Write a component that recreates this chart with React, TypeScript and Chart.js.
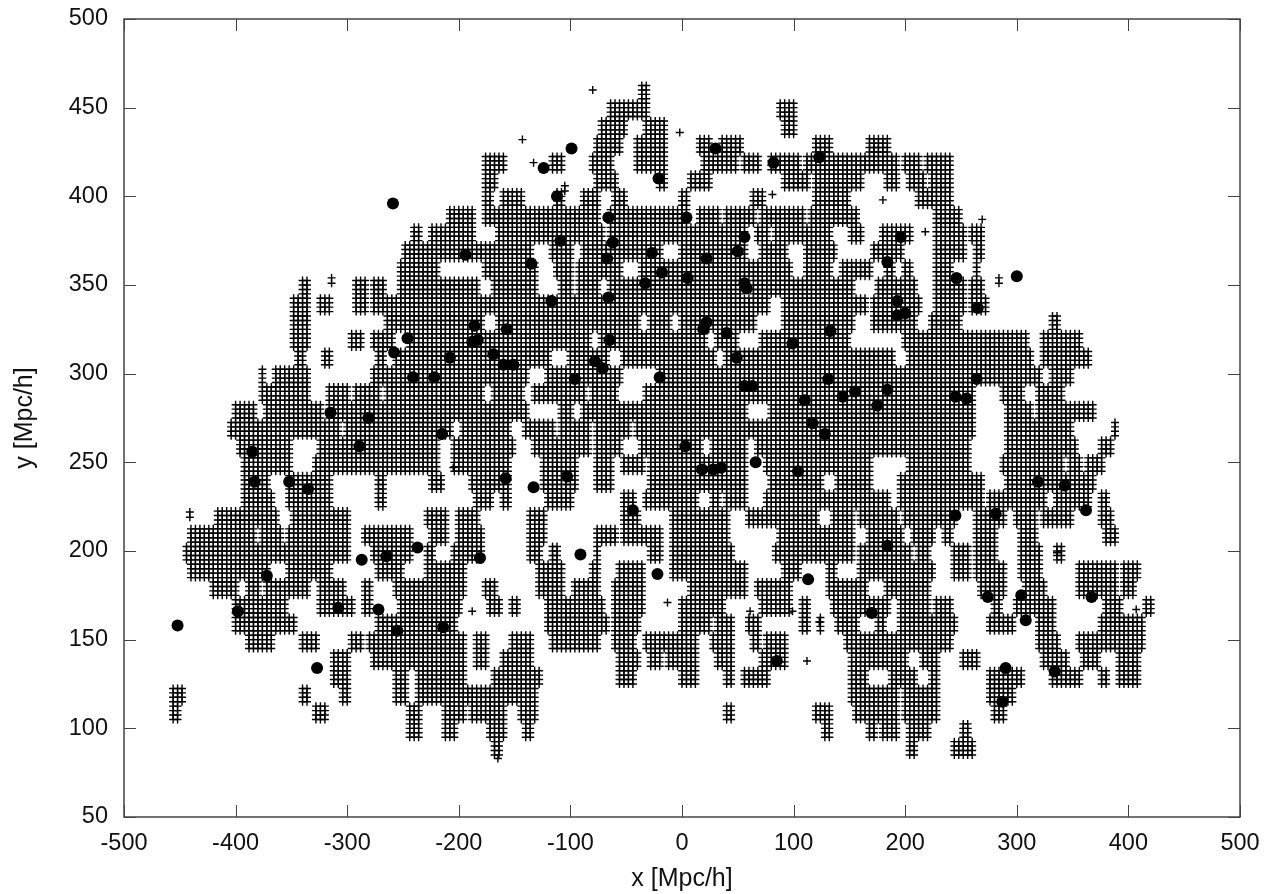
import React, { useEffect, useRef } from "react";
import { Chart, registerables } from "chart.js";

Chart.register(...registerables);

const xTickStep = 100;
const yTickStep = 50;
const xRange = [-500, 500];
const yRange = [50, 500];
const xTitle = "x [Mpc/h]";
const yTitle = "y [Mpc/h]";

// Occupied cells: [y, from x, to x, from x, to x, ...]
const occupiedRows: number[][] = [
  [460, -40, -29],
  [450, -65, -30, 86, 103],
  [440, -73, -50, -36, -13, 88, 101],
  [430, -80, -54, -42, -13, 12, 25, 34, 54, 116, 134, 166, 186],
  [420, -177, -159, -120, -107, -81, -63, -44, -13, 16, 49, 55, 71, 79, 104, 110, 194, 198, 213, 216, 240],
  [410, -178, -168, -80, -60, -24, -15, 7, 25, 88, 101, 103, 115, 117, 162, 182, 195, 202, 218, 220, 240],
  [400, -178, -170, -161, -141, -116, -107, -89, -76, -63, -49, -2, 7, 61, 72, 117, 151, 210, 240],
  [390, -211, -185, -179, -73, -67, 7, 14, 34, 39, 67, 70, 108, 112, 157, 225, 249],
  [380, -244, -235, -228, -185, -166, -69, -67, 56, 67, 76, 81, 135, 151, 162, 179, 206, 225, 255, 258, 270],
  [370, -251, -134, -118, -99, -91, -20, -2, 59, 68, 94, 110, 137, 170, 198, 225, 252, 263, 270],
  [360, -253, -220, -178, -132, -116, -98, -93, -56, -40, 99, 108, 133, 142, 168, 180, 188, 198, 207, 225, 243, 263, 267],
  [350, -342, -336, -295, -282, -277, -268, -255, -181, -169, -130, -111, -98, -93, -73, -67, 52, 62, 153, 175, 211, 225, 254, 256, 271],
  [340, -349, -333, -327, -315, -295, -282, -278, -172, -169, 79, 88, 164, 170, 213, 227, 254, 258, 274],
  [330, -351, -335, -268, -177, -168, -40, -29, -11, -2, 67, 88, 153, 171, 209, 222, 249, 328, 339],
  [320, -349, -336, -299, -286, -277, -257, -248, -82, -73, -47, -45, -24, -22, 20, 29, 49, 70, 151, 198, 309, 323, 358],
  [310, -345, -338, -324, -315, -273, -268, -260, -118, -102, -67, -53, 31, 36, 191, 202, 314, 321, 367],
  [300, -380, -373, -366, -336, -280, -139, -121, -54, -24, 321, 328, 349],
  [290, -380, -333, -318, -300, -296, -272, -268, -177, -170, -141, -134, -87, -82, -57, -35, 263, 285, 305, 318, 340],
  [280, -403, -384, -375, -322, -318, -300, -297, -139, -112, -99, -89, 58, 76, 263, 289, 312, 319, 368],
  [270, -407, -305, -302, -208, -197, -154, -141, -116, -112, -82, -80, -47, -44, 261, 291, 350, 384, 390],
  [260, -400, -349, -326, -219, -208, -151, -134, -82, -80, -53, -40, 16, 25, 59, 64, 258, 289, 354, 372, 386],
  [250, -396, -349, -329, -219, -208, -154, -125, -93, -80, -63, -53, -33, -29, 58, 72, 168, 200, 258, 287, 305, 307, 343, 345, 359, 363, 379],
  [240, -394, -369, -356, -313, -273, -268, -228, -215, -190, -154, -125, -93, -78, -63, -31, 56, 77, 126, 139, 168, 195, 269, 289, 368],
  [230, -394, -365, -354, -315, -273, -268, -185, -170, -161, -154, -123, -98, -56, -44, -36, 12, 25, 32, 39, 56, 74, 186, 194, 270, 273, 327, 332, 366, 372, 381],
  [220, -418, -396, -393, -363, -351, -299, -230, -210, -203, -181, -139, -121, -56, -39, -11, 41, 59, 122, 135, 153, 159, 193, 198, 246, 263, 289, 296, 318, 323, 350, 372, 386],
  [210, -443, -383, -380, -360, -354, -299, -287, -244, -228, -211, -203, -179, -139, -121, -78, -57, -53, -17, -11, 41, 86, 153, 166, 198, 207, 224, 233, 243, 263, 280, 303, 319, 376, 388],
  [200, -447, -297, -280, -241, -230, -223, -206, -179, -139, -125, -120, -109, -80, -73, -31, -17, -11, 45, 81, 153, 159, 204, 211, 220, 240, 258, 263, 280, 301, 321, 332, 340],
  [190, -441, -369, -353, -315, -273, -250, -232, -193, -132, -107, -82, -76, -60, -35, -11, 58, 90, 106, 131, 139, 158, 224, 240, 258, 263, 291, 303, 321, 354, 390, 395, 408],
  [180, -423, -399, -390, -380, -376, -333, -327, -304, -288, -277, -259, -196, -177, -165, -130, -108, -98, -73, -63, -35, 7, 56, 67, 99, 131, 166, 180, 222, 264, 289, 305, 327, 354, 390, 395, 404],
  [170, -402, -354, -326, -293, -287, -280, -255, -197, -175, -163, -156, -147, -121, -71, -63, -35, -2, 37, 68, 97, 104, 113, 133, 185, 195, 220, 227, 243, 279, 287, 298, 332, 377, 394, 413, 422],
  [160, -403, -345, -273, -201, -123, -67, -62, -40, -2, 25, 31, 46, 58, 68, 106, 115, 121, 126, 139, 159, 173, 182, 195, 245, 274, 297, 319, 332, 375, 413],
  [150, -392, -365, -344, -327, -300, -288, -281, -196, -185, -174, -154, -136, -120, -73, -62, -44, -35, 13, 27, 46, 61, 68, 74, 95, 146, 240, 318, 339, 355, 413],
  [140, -314, -299, -277, -194, -185, -174, -161, -134, -60, -38, -31, -20, -13, 13, 30, 46, 68, 95, 149, 202, 213, 228, 249, 267, 323, 345, 359, 375, 388, 410],
  [130, -314, -300, -260, -246, -237, -194, -169, -127, -57, -42, -4, 13, 37, 46, 52, 76, 149, 164, 186, 211, 220, 229, 274, 305, 328, 358, 373, 381, 388, 408],
  [120, -459, -448, -344, -335, -305, -297, -259, -246, -237, -129, 149, 195, 198, 228, 273, 297],
  [110, -457, -452, -331, -320, -246, -235, -215, -196, -190, -159, -145, -132, 37, 47, 119, 135, 152, 193, 198, 228, 278, 288],
  [100, -246, -235, -214, -202, -174, -157, -141, -136, 124, 134, 164, 173, 179, 193, 200, 220, 248, 256],
  [90, -169, -161, 202, 211, 243, 261],
];

const loneCrossX = [-80, -143, -2, -133, -105, -105, 81, 180, 269, 284, 284, -314, -314, -188, 61, 99, 112, 123, -13, -441, -441, 336, -205, -165, 407, 218];
const loneCrossY = [460, 432, 436, 419, 406, 403, 401, 398, 387, 354, 351, 354, 351, 166, 166, 166, 138, 160, 171, 222, 219, 199, 247, 83, 167, 380];

const objectX = [-259, -246, -258, -241, -315, -281, -99, -124, -112, -21, -66, -62, -67, -27, -18, -33, 5, 4, -109, -135, -194, -117, -66, -186, -188, -183, -157, -65, -208, -169, -160, -151, -78, -71, -20, -96, -222, 30, 82, 123, 56, 50, 22, 56, 58, 196, 184, 193, 193, 200, 19, 22, 40, 133, 99, 49, 131, 56, 63, 110, 144, 155, 184, 175, 117, 246, 265, 300, 264, 245, 255, -385, -289, -383, -352, -335, -237, -265, -287, -372, -398, -308, -272, -255, -327, -452, -215, -158, -133, -103, 3, -44, -181, -91, -22, -214, 128, 66, 18, 28, 35, 104, 113, 85, 170, 184, 245, 281, 319, 343, 362, 274, 304, 308, 367, 290, 287, 334];
const objectY = [396, 320, 312, 298, 278, 275, 427, 416, 400, 410, 388, 374, 365, 368, 357, 351, 354, 388, 375, 362, 367, 341, 343, 327, 318, 319, 325, 319, 309, 311, 305, 305, 307, 303, 298, 297, 298, 427, 419, 422, 377, 369, 365, 351, 348, 377, 363, 341, 333, 334, 325, 329, 323, 324, 317, 309, 297, 293, 293, 285, 287, 290, 291, 282, 272, 354, 337, 355, 297, 287, 286, 256, 259, 239, 239, 235, 202, 197, 195, 186, 166, 168, 167, 155, 134, 158, 266, 241, 236, 242, 259, 223, 196, 198, 187, 157, 266, 250, 246, 246, 247, 245, 184, 138, 165, 203, 220, 221, 239, 237, 223, 174, 175, 161, 174, 134, 115, 132];

function buildCells() {
  const cells: { x: number; y: number }[] = [];
  for (const row of occupiedRows) {
    const y = row[0];
    for (let i = 1; i + 1 < row.length; i += 2) {
      let a = row[i] + 2;
      let b = row[i + 1] - 2;
      if (a > b) a = b = (row[i] + row[i + 1]) / 2;
      const x0 = Math.round(a / 4) * 4;
      const x1 = Math.max(x0, Math.round(b / 4) * 4);
      for (let x = x0; x <= x1; x += 4) {
        for (const dy of [-5, -2.5, 0, 2.5]) cells.push({ x, y: y + dy });
      }
    }
  }
  loneCrossX.forEach((x, i) => cells.push({ x, y: loneCrossY[i] }));
  return cells;
}

const framePlugin = {
  id: "frame",
  afterDraw(chart: any) {
    const { ctx, chartArea: a, scales } = chart;
    const len = 12;
    ctx.save();
    ctx.strokeStyle = "#444444";
    ctx.lineWidth = 1.5;
    ctx.strokeRect(a.left, a.top, a.right - a.left, a.bottom - a.top);
    ctx.lineWidth = 1;
    ctx.beginPath();
    scales.x.ticks.forEach((t: any) => {
      const p = Math.round(scales.x.getPixelForValue(t.value)) + 0.5;
      ctx.moveTo(p, a.bottom);
      ctx.lineTo(p, a.bottom - len);
      ctx.moveTo(p, a.top);
      ctx.lineTo(p, a.top + len);
    });
    scales.y.ticks.forEach((t: any) => {
      const p = Math.round(scales.y.getPixelForValue(t.value)) + 0.5;
      ctx.moveTo(a.left, p);
      ctx.lineTo(a.left + len, p);
      ctx.moveTo(a.right, p);
      ctx.lineTo(a.right - len, p);
    });
    ctx.stroke();
    ctx.restore();
  },
};

export default function App() {
  const ref = useRef<HTMLCanvasElement>(null);
  useEffect(() => {
    const tickFont = { family: "'Liberation Sans', Arial, sans-serif", size: 23.5 };
    const titleFont = { family: "'Liberation Sans', Arial, sans-serif", size: 25 };
    const chart = new Chart(ref.current!, {
      type: "scatter",
      data: {
        datasets: [
          {
            data: buildCells(),
            pointStyle: "cross",
            pointRadius: 4,
            borderColor: "#000000",
            borderWidth: 1.4,
            backgroundColor: "#000000",
          },
          {
            data: objectX.map((x, i) => ({ x, y: objectY[i] })),
            pointStyle: "circle",
            pointRadius: 6,
            borderWidth: 0,
            backgroundColor: "#000000",
          },
        ],
      },
      options: {
        animation: false,
        responsive: false,
        devicePixelRatio: 1,
        layout: { padding: { top: 19, right: 26, left: 0, bottom: 0 } },
        plugins: { legend: { display: false }, tooltip: { enabled: false } },
        events: [],
        scales: {
          x: {
            type: "linear",
            min: xRange[0],
            max: xRange[1],
            afterFit: (s: any) => { s.height = 77; s.paddingLeft = 0; s.paddingRight = 0; },
            grid: { display: false, drawTicks: false },
            border: { display: false },
            ticks: { stepSize: xTickStep, font: tickFont, color: "#111111", padding: 12, maxRotation: 0 },
            title: { display: true, text: xTitle, font: titleFont, color: "#111111", padding: { top: 0, bottom: 0 } },
          },
          y: {
            type: "linear",
            min: yRange[0],
            max: yRange[1],
            afterFit: (s: any) => { s.width = 124; s.paddingTop = 0; s.paddingBottom = 0; },
            grid: { display: false, drawTicks: false },
            border: { display: false },
            ticks: { stepSize: yTickStep, font: tickFont, color: "#111111", padding: 16 },
            title: { display: true, text: yTitle, font: titleFont, color: "#111111", padding: { top: 10, bottom: 0 } },
          },
        },
      } as any,
      plugins: [framePlugin],
    });
    return () => chart.destroy();
  }, []);
  return (
    <div style={{ position: "absolute", left: 0, top: 0, width: 1266, height: 894, background: "#fff" }}>
      <canvas ref={ref} width={1266} height={894} style={{ display: "block" }} />
    </div>
  );
}
